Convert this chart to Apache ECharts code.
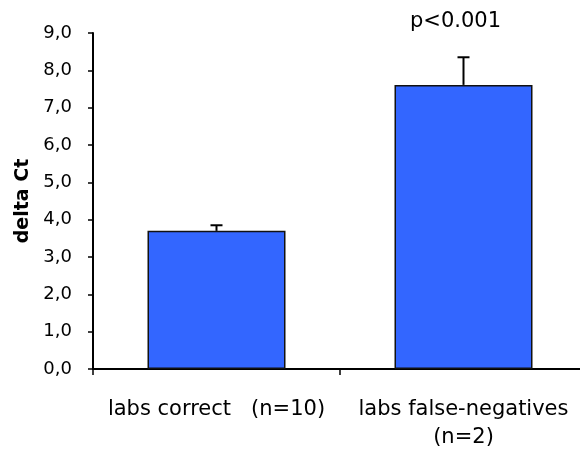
<!DOCTYPE html>
<html><head><meta charset="utf-8">
<script src="https://cdn.jsdelivr.net/npm/echarts@6/dist/echarts.min.js"></script>
<style>html,body{margin:0;padding:0;background:#fff}#c{width:580px;height:452px}</style>
</head><body><div id="c"></div>
<script>
var categories = ['labs correct   (n=10)', 'labs false-negatives\n(n=2)'];
var means = [3.70, 7.61];
var upperErr = [3.85, 8.35];
var yTicks = { min: 0, max: 9, interval: 1 };
var yName = 'delta Ct';
var annotation = 'p<0.001';

var errData = categories.map(function (c, i) { return [i, means[i], upperErr[i]]; });

var chart = echarts.init(document.getElementById('c'), null, { renderer: 'canvas' });
chart.setOption({
  animation: false,
  title: {
    text: annotation, left: 405, top: 6,
    textStyle: { fontFamily: 'DejaVu Sans', fontSize: 21, fontWeight: 'normal', color: '#000' }
  },
  grid: { left: 93, top: 33, bottom: 83, width: 494, outerBoundsMode: 'none', containLabel: false },
  xAxis: {
    type: 'category', data: categories,
    axisLine: { lineStyle: { color: '#000', width: 2 } },
    axisTick: { show: true, length: 6, lineStyle: { color: '#000', width: 1.5 } },
    axisLabel: { color: '#000', fontFamily: 'DejaVu Sans', fontSize: 21, margin: 27, lineHeight: 28, interval: 0 }
  },
  yAxis: {
    type: 'value', min: yTicks.min, max: yTicks.max, interval: yTicks.interval,
    name: yName, nameLocation: 'middle', nameGap: 58, nameRotate: 90,
    nameTextStyle: { color: '#000', fontFamily: 'DejaVu Sans', fontSize: 19, fontWeight: 'bold' },
    axisLine: { show: true, lineStyle: { color: '#000', width: 2 } },
    axisTick: { show: true, length: 5, lineStyle: { color: '#000', width: 1.5 } },
    splitLine: { show: false },
    axisLabel: { color: '#000', fontFamily: 'DejaVu Sans', fontSize: 18, margin: 21,
      formatter: function (v) { return v.toFixed(1).replace('.', ','); } }
  },
  series: [
    {
      type: 'bar', data: means, barWidth: 138,
      itemStyle: { color: '#3366FF', borderColor: '#111', borderWidth: 1.5 }
    },
    {
      type: 'custom', data: errData, z: 5,
      renderItem: function (params, api) {
        var x = api.value(0);
        var p0 = api.coord([x, api.value(1)]);
        var p1 = api.coord([x, api.value(2)]);
        var hw = 6;
        return {
          type: 'group',
          children: [
            { type: 'line', shape: { x1: p0[0], y1: p0[1], x2: p1[0], y2: p1[1] }, style: { stroke: '#000', lineWidth: 2 } },
            { type: 'line', shape: { x1: p1[0] - hw, y1: p1[1], x2: p1[0] + hw, y2: p1[1] }, style: { stroke: '#000', lineWidth: 2 } }
          ]
        };
      }
    }
  ]
});
</script></body></html>
